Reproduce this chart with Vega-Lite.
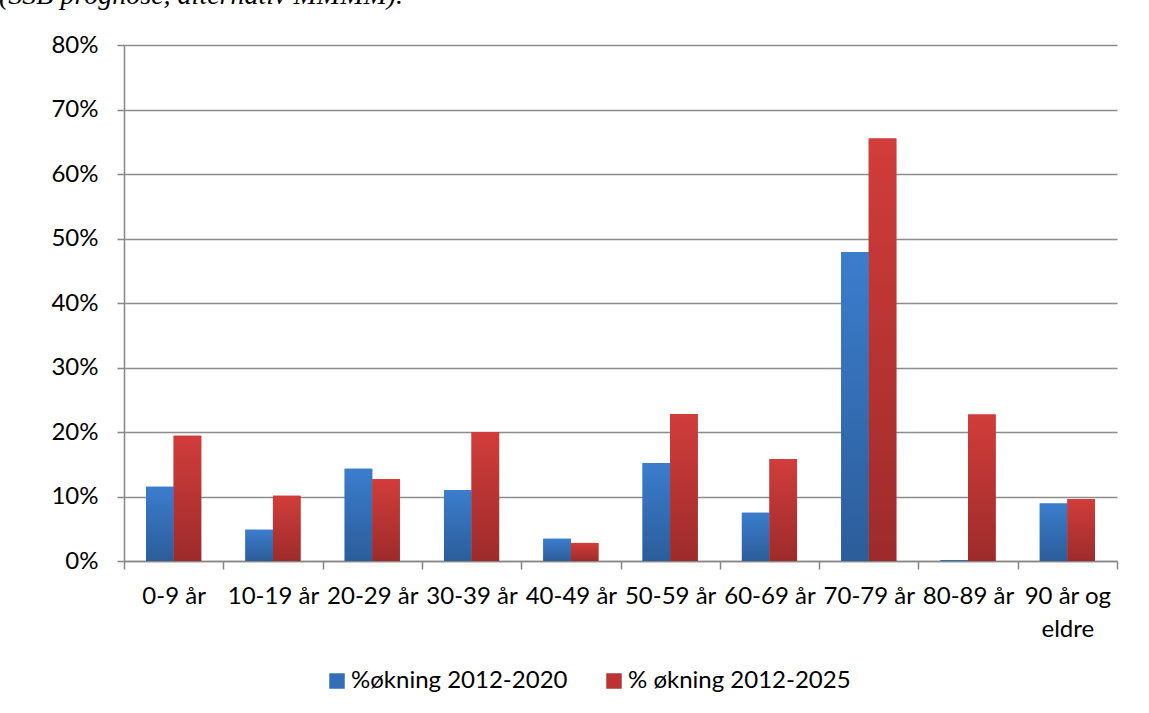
{
  "$schema": "https://vega.github.io/schema/vega-lite/v6.json",
  "width": 993,
  "height": 516,
  "autosize": "none",
  "padding": {"left": 124, "top": 45, "right": 32, "bottom": 152},
  "background": "white",
  "title": {
    "text": "(SSB prognose, alternativ MMMM).",
    "anchor": "start",
    "frame": "group",
    "font": "Liberation Serif",
    "fontStyle": "italic",
    "fontWeight": "normal",
    "fontSize": 28,
    "color": "#000000",
    "baseline": "alphabetic",
    "offset": 1,
    "dx": -125
  },
  "data": {
    "values": [
      {"age": "0-9 år", "series": "%økning 2012-2020", "value": 0.115},
      {"age": "0-9 år", "series": "% økning 2012-2025", "value": 0.194},
      {"age": "10-19 år", "series": "%økning 2012-2020", "value": 0.0485},
      {"age": "10-19 år", "series": "% økning 2012-2025", "value": 0.101},
      {"age": "20-29 år", "series": "%økning 2012-2020", "value": 0.143},
      {"age": "20-29 år", "series": "% økning 2012-2025", "value": 0.127},
      {"age": "30-39 år", "series": "%økning 2012-2020", "value": 0.110},
      {"age": "30-39 år", "series": "% økning 2012-2025", "value": 0.200},
      {"age": "40-49 år", "series": "%økning 2012-2020", "value": 0.0345},
      {"age": "40-49 år", "series": "% økning 2012-2025", "value": 0.028},
      {"age": "50-59 år", "series": "%økning 2012-2020", "value": 0.152},
      {"age": "50-59 år", "series": "% økning 2012-2025", "value": 0.228},
      {"age": "60-69 år", "series": "%økning 2012-2020", "value": 0.075},
      {"age": "60-69 år", "series": "% økning 2012-2025", "value": 0.158},
      {"age": "70-79 år", "series": "%økning 2012-2020", "value": 0.479},
      {"age": "70-79 år", "series": "% økning 2012-2025", "value": 0.655},
      {"age": "80-89 år", "series": "%økning 2012-2020", "value": 0.0015},
      {"age": "80-89 år", "series": "% økning 2012-2025", "value": 0.227},
      {"age": "90 år og eldre", "series": "%økning 2012-2020", "value": 0.089},
      {"age": "90 år og eldre", "series": "% økning 2012-2025", "value": 0.096}
    ]
  },
  "encoding": {
    "x": {
      "field": "age",
      "type": "nominal",
      "sort": null,
      "scale": {"paddingInner": 0, "paddingOuter": 0},
      "axis": {
        "title": null,
        "labelAngle": 0,
        "tickBand": "extent",
        "tickSize": 8,
        "tickColor": "#868686",
        "tickWidth": 1.5,
        "domainColor": "#868686",
        "domainWidth": 1.5,
        "labelFont": "Lato",
        "labelFontSize": 24,
        "labelColor": "#000000",
        "labelPadding": 15,
        "labelLineHeight": 33,
        "labelExpr": "datum.value == '90 år og eldre' ? ['90 år og', 'eldre'] : datum.value"
      }
    },
    "xOffset": {
      "field": "series",
      "type": "nominal",
      "scale": {"domain": ["%økning 2012-2020", "% økning 2012-2025"], "paddingInner": 0, "paddingOuter": 0.8}
    },
    "y": {
      "field": "value",
      "type": "quantitative",
      "scale": {"domain": [0, 0.8], "nice": false},
      "axis": {
        "title": null,
        "format": ".0%",
        "values": [0, 0.1, 0.2, 0.3, 0.4, 0.5, 0.6, 0.7, 0.8],
        "tickSize": 7,
        "tickColor": "#868686",
        "tickWidth": 1.5,
        "domainColor": "#868686",
        "domainWidth": 1.5,
        "gridColor": "#8c8c8c",
        "gridWidth": 1.5,
        "labelFont": "Lato",
        "labelFontSize": 24,
        "labelColor": "#000000",
        "labelPadding": 19
      }
    }
  },
  "layer": [
    {
      "mark": {"type": "bar"},
      "encoding": {
        "color": {
          "field": "series",
          "type": "nominal",
          "scale": {"domain": ["%økning 2012-2020", "% økning 2012-2025"], "range": ["#346eb8", "#bb3434"]},
          "legend": {
            "title": null,
            "orient": "none",
            "direction": "horizontal",
            "legendX": 201,
            "legendY": 624,
            "padding": 0,
            "symbolType": "square",
            "symbolSize": 240,
            "symbolStrokeWidth": 0,
            "labelFont": "Lato",
            "labelFontSize": 24,
            "labelColor": "#000000",
            "labelOffset": 2,
            "columnPadding": 34,
            "labelLimit": 400
          }
        }
      }
    },
    {
      "transform": [{"filter": "datum.series === '%økning 2012-2020'"}],
      "mark": {
        "type": "bar",
        "color": {
          "gradient": "linear",
          "x1": 0, "y1": 0, "x2": 0, "y2": 1,
          "stops": [{"offset": 0, "color": "#3b7dcd"}, {"offset": 1, "color": "#2c5d9a"}]
        }
      }
    },
    {
      "transform": [{"filter": "datum.series === '% økning 2012-2025'"}],
      "mark": {
        "type": "bar",
        "color": {
          "gradient": "linear",
          "x1": 0, "y1": 0, "x2": 0, "y2": 1,
          "stops": [{"offset": 0, "color": "#d13d3a"}, {"offset": 1, "color": "#9d2b2b"}]
        }
      }
    }
  ],
  "config": {
    "view": {"stroke": null},
    "axis": {"gridDash": []}
  }
}
